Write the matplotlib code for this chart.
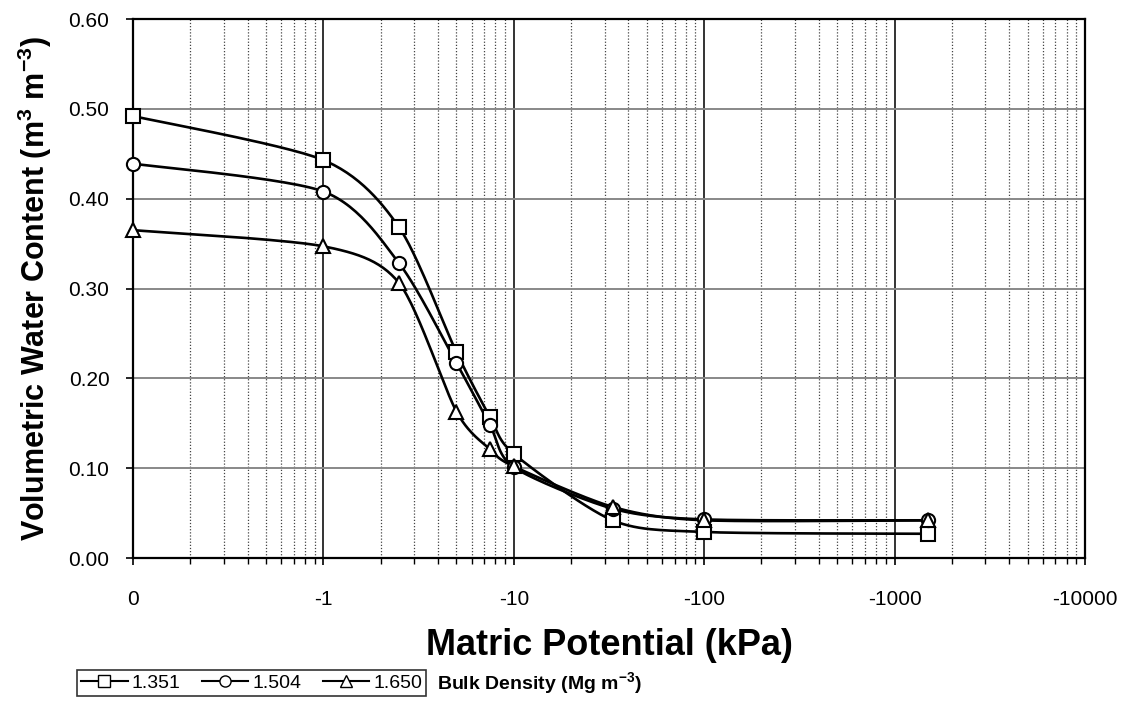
import matplotlib
matplotlib.use("Agg")
import matplotlib.pyplot as plt
from matplotlib.ticker import FixedLocator, LogLocator, NullFormatter
import numpy as np

plt.rcParams["font.family"] = ["Liberation Sans", "DejaVu Sans"]
plt.rcParams["mathtext.fontset"] = "custom"
plt.rcParams["mathtext.rm"] = "Liberation Sans"
plt.rcParams["mathtext.bf"] = "Liberation Sans:bold"
plt.rcParams["mathtext.default"] = "bf"

# --- Дані (|потенціал| у кПа; 0.1 показано як "0") ---
potential = [0.1, 1, 2.5, 5, 7.5, 10, 33, 100, 1500]
bd_1351 = [0.492, 0.443, 0.368, 0.229, 0.157, 0.116, 0.042, 0.029, 0.027]
bd_1504 = [0.439, 0.408, 0.328, 0.217, 0.148, 0.101, 0.055, 0.043, 0.042]
bd_1650 = [0.365, 0.347, 0.306, 0.163, 0.121, 0.102, 0.057, 0.042, 0.042]
series_labels = ["1.351", "1.504", "1.650"]
series_markers = ["s", "o", "^"]
x_ticks = [0.1, 1, 10, 100, 1000, 10000]
x_tick_labels = ["0", "-1", "-10", "-100", "-1000", "-10000"]


def smooth(xs, ys, n=30, tension=0.8):
    """Catmull-Rom у просторі (log x, y), приблизно як згладжування Excel."""
    px = np.log10(xs) * 190.0
    py = np.array(ys) * 900.0
    pts = np.column_stack([px, py])
    pts = np.vstack([pts[0], pts, pts[-1]])
    out = []
    for i in range(1, len(pts) - 2):
        p0, p1, p2, p3 = pts[i - 1], pts[i], pts[i + 1], pts[i + 2]
        c1 = p1 + tension * (p2 - p0) / 6.0
        c2 = p2 - tension * (p3 - p1) / 6.0
        t = np.linspace(0, 1, n)[:, None]
        seg = ((1 - t) ** 3 * p1 + 3 * (1 - t) ** 2 * t * c1
               + 3 * (1 - t) * t ** 2 * c2 + t ** 3 * p2)
        out.append(seg)
    out = np.vstack(out)
    return 10 ** (out[:, 0] / 190.0), out[:, 1] / 900.0


fig = plt.figure(figsize=(11.29, 7.18), dpi=100)
ax = fig.add_axes([0.1178, 0.2228, 0.8432, 0.7507])

handles = []
for ys, lab, mk in zip([bd_1351, bd_1504, bd_1650], series_labels, series_markers):
    sx, sy = smooth(potential, ys)
    ax.plot(sx, sy, color="black", lw=1.9, zorder=3)
    ax.plot(potential, ys, ls="none", marker=mk, ms=10 if mk != "o" else 9.5,
            mfc="white", mec="black", mew=1.5, zorder=4, clip_on=False)
    h, = ax.plot([], [], color="black", lw=1.5, marker=mk, ms=8,
                 mfc="white", mec="black", mew=1.0, label=lab)
    handles.append(h)

ax.set_xscale("log")
ax.set_xlim(0.1, 10000)
ax.set_ylim(0, 0.6)
ax.xaxis.set_major_locator(FixedLocator(x_ticks))
ax.set_xticklabels(x_tick_labels)
ax.xaxis.set_minor_locator(LogLocator(base=10, subs=np.arange(2, 10)))
ax.xaxis.set_minor_formatter(NullFormatter())
ax.set_yticks(np.arange(0, 0.61, 0.1))
ax.set_yticklabels([f"{v:.2f}" for v in np.arange(0, 0.61, 0.1)])

ax.grid(True, which="major", axis="y", color="#888888", lw=1.4)
ax.grid(True, which="major", axis="x", color="#333333", lw=1.4)
ax.grid(True, which="minor", axis="x", color="#444444", lw=0.9, ls=(0, (1, 1.5)))

ax.tick_params(axis="both", which="major", direction="out", length=5,
               width=1.2, labelsize=15)
ax.tick_params(axis="x", which="major", pad=18)
ax.tick_params(axis="y", which="major", pad=12)
ax.tick_params(axis="x", which="minor", direction="out", length=4, width=1.0)
for sp in ax.spines.values():
    sp.set_linewidth(1.6)

ax.set_ylabel("Volumetric Water Content (m$^{3}$ m$^{-3}$)", fontsize=22,
              fontweight="bold", labelpad=10)
ax.set_xlabel("Matric Potential (kPa)", fontsize=26, fontweight="bold", labelpad=14)

leg = fig.legend(handles=handles, loc="center left",
                 bbox_to_anchor=(77 / 1129, 1 - 683 / 718), ncol=3, fontsize=14,
                 frameon=True, fancybox=False, edgecolor="black",
                 handlelength=2.4, handletextpad=0.2, columnspacing=1.1,
                 borderpad=0.2, borderaxespad=0)
leg.get_frame().set_linewidth(1.2)
fig.text(437 / 1129, 1 - 683 / 718, "Bulk Density (Mg m$^{-3}$)",
         fontsize=14, fontweight="bold", va="center", ha="left")

fig.savefig("out.png", dpi=100)
